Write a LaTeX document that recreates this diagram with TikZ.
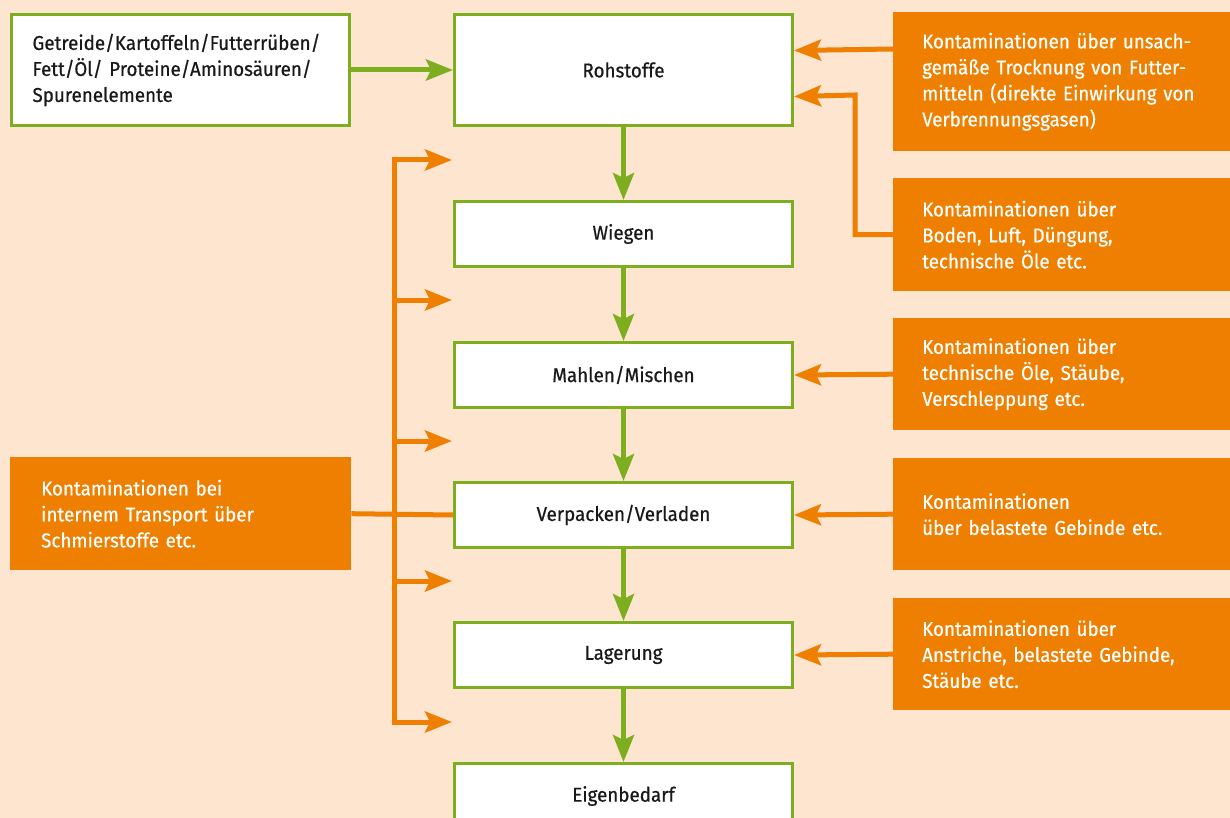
\documentclass[tikz,border=0pt]{standalone}
\usepackage{fontspec}
\setmainfont{Fira Sans}[FakeStretch=0.94,FakeBold=0.6]
\usetikzlibrary{arrows.meta}
\definecolor{bg}{RGB}{253,229,207}
\definecolor{grn}{RGB}{124,174,32}
\definecolor{org}{RGB}{239,127,0}
\tikzset{
  x=1pt, y=-1pt,
  every node/.style={font=\fontsize{20}{26}\selectfont},
  gbox/.style={draw=grn, line width=3pt, fill=white, anchor=north west, inner sep=0pt, text=black!90},
  obox/.style={fill=org, anchor=north west, text=white, align=left, inner xsep=29pt, inner ysep=0pt, text width=287pt},
  garrow/.style={draw=grn, line width=5pt, -{Stealth[length=27pt,width=21pt,inset=5pt]}},
  oarrow/.style={draw=org, line width=5pt, -{Stealth[length=27pt,width=21pt,inset=5pt]}},
  oline/.style={draw=org, line width=5pt},
}
\begin{document}
\begin{tikzpicture}
\useasboundingbox (0,0) rectangle (1230,818);
\clip (0,0) rectangle (1230,818);
\fill[bg] (0,0) rectangle (1230,818);

% green boxes
\node[gbox, minimum width=338pt, minimum height=111pt, align=left, text width=296pt, inner xsep=21pt] (in) at (10,13)
  {Getreide/Kartoffeln/Futterrüben/\\Fett/Öl/ Proteine/Aminosäuren/\\Spurenelemente};
\node[gbox, minimum width=338pt, minimum height=111pt] (roh) at (453,13) {Rohstoffe};
\node[gbox, minimum width=338pt, minimum height=65pt] (wie) at (453,200) {Wiegen};
\node[gbox, minimum width=338pt, minimum height=65pt] (mah) at (453,341) {Mahlen/Mischen};
\node[gbox, minimum width=338pt, minimum height=65pt] (ver) at (453,481) {Verpacken/Verladen};
\node[gbox, minimum width=338pt, minimum height=65pt] (lag) at (453,621) {Lagerung};
\node[gbox, minimum width=338pt, minimum height=65pt] (eig) at (453,762) {Eigenbedarf};

% orange boxes right
\node[obox, minimum width=345pt, minimum height=139pt] (k1) at (893,12)
  {Kontaminationen über unsach-\\gemäße Trocknung von Futter-\\mitteln (direkte Einwirkung von\\Verbrennungsgasen)};
\node[obox, minimum width=345pt, minimum height=113pt] (k2) at (893,178)
  {Kontaminationen über\\Boden, Luft, Düngung,\\technische Öle etc.};
\node[obox, minimum width=345pt, minimum height=112pt] (k3) at (893,318)
  {Kontaminationen über\\technische Öle, Stäube,\\Verschleppung etc.};
\node[obox, minimum width=345pt, minimum height=112pt] (k4) at (893,458)
  {Kontaminationen\\über belastete Gebinde etc.};
\node[obox, minimum width=345pt, minimum height=112pt] (k5) at (893,598)
  {Kontaminationen über\\Anstriche, belastete Gebinde,\\Stäube etc.};
% orange box left
\node[obox, minimum width=341pt, minimum height=113pt, text width=279pt, inner xsep=31pt] (kl) at (10,457)
  {Kontaminationen bei\\internem Transport über\\Schmierstoffe etc.};

% green flow
\draw[garrow] (in.east) -- (roh.west);
\draw[garrow] (roh.south) -- (wie.north);
\draw[garrow] (wie.south) -- (mah.north);
\draw[garrow] (mah.south) -- (ver.north);
\draw[garrow] (ver.south) -- (lag.north);
\draw[garrow] (lag.south) -- (eig.north);

% right orange arrows
\draw[oarrow] (k1.west |- 0,49) -- ([yshift=19.5pt]roh.east);
\draw[oarrow] (k2.west) -| (855,95) -- ([yshift=-26.5pt]roh.east);
\draw[oarrow] (k3.west) -- (mah.east);
\draw[oarrow] (k4.west) -- (ver.east);
\draw[oarrow] (k5.west) -- (lag.east);

% left orange distribution
\coordinate (sT) at (394,160);
\coordinate (sB) at (394,722);
\coordinate (t1) at (452,160);
\coordinate (t2) at (452,300);
\coordinate (t3) at (452,441);
\coordinate (t4) at (452,581);
\coordinate (t5) at (452,722);
\draw[oline] (kl.east) -- (ver.west);
\draw[oarrow] (sB) -- (sT) -- (t1);
\draw[oarrow] (sT) -- (sB) -- (t5);
\draw[oarrow] (sT |- t2) -- (t2);
\draw[oarrow] (sT |- t3) -- (t3);
\draw[oarrow] (sT |- t4) -- (t4);
\end{tikzpicture}
\end{document}
